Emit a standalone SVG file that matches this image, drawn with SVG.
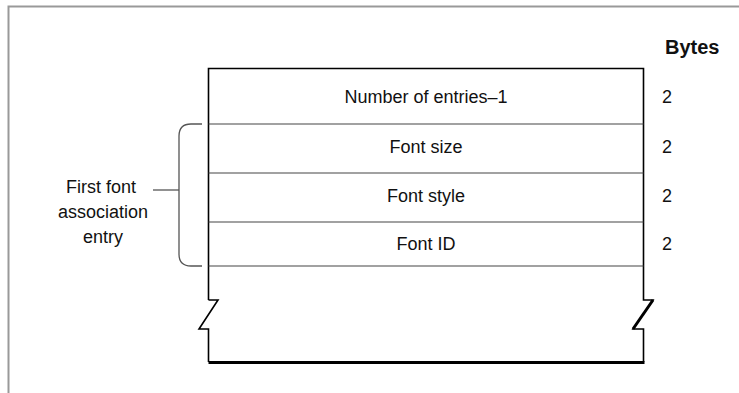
<svg xmlns="http://www.w3.org/2000/svg" width="739" height="393" viewBox="0 0 739 393">
<style>
text{font-family:"Liberation Sans",Arial,sans-serif;font-size:18px;fill:#111}
.c{text-anchor:middle}
.b{font-weight:bold;font-size:20px}
.row{stroke:#444;stroke-width:1.2;fill:none}
.edge{stroke:#000;stroke-width:1.6;fill:none}
.brace{stroke:#555;stroke-width:1.3;fill:none}
</style>
<rect width="739" height="393" fill="#fff"/>
<path d="M8.5 393 V6.5 H739" stroke="#999" stroke-width="2" fill="none"/>
<g id="table">
<path class="edge" d="M208.5 300 V68.5 H643.5 V300 H653 L633 329 H643.5 V362"/>
<path class="edge" d="M208.5 300 H218 L199 329 H208.5 V362"/>
<path d="M208.5 362.5 H644.5" stroke="#000" stroke-width="3"/>
<path d="M653 300 L633 329" stroke="#000" stroke-width="3"/>
</g>
<g id="rows">
<line class="row" x1="208.5" y1="124" x2="643.5" y2="124"/>
<line class="row" x1="208.5" y1="173" x2="643.5" y2="173"/>
<line class="row" x1="208.5" y1="222" x2="643.5" y2="222"/>
<line class="row" x1="208.5" y1="266" x2="643.5" y2="266"/>
</g>
<g id="n1"><text class="c" x="426" y="103">Number of entries–1</text><text x="662" y="103">2</text></g>
<g id="n2"><text class="c" x="426" y="153">Font size</text><text x="662" y="153">2</text></g>
<g id="n3"><text class="c" x="426" y="202">Font style</text><text x="662" y="202">2</text></g>
<g id="n4"><text class="c" x="426" y="250">Font ID</text><text x="662" y="250">2</text></g>
<g id="header"><text class="b" x="665" y="54">Bytes</text></g>
<g id="connectors">
<path class="brace" d="M202 124 H191 Q179 124 179 136 V254 Q179 266 191 266 H202"/>
<line class="brace" x1="153" y1="190" x2="179" y2="190"/>
</g>
<g id="label">
<text class="c" x="101" y="193">First font</text>
<text class="c" x="103" y="218">association</text>
<text class="c" x="103" y="243">entry</text>
</g>
</svg>
